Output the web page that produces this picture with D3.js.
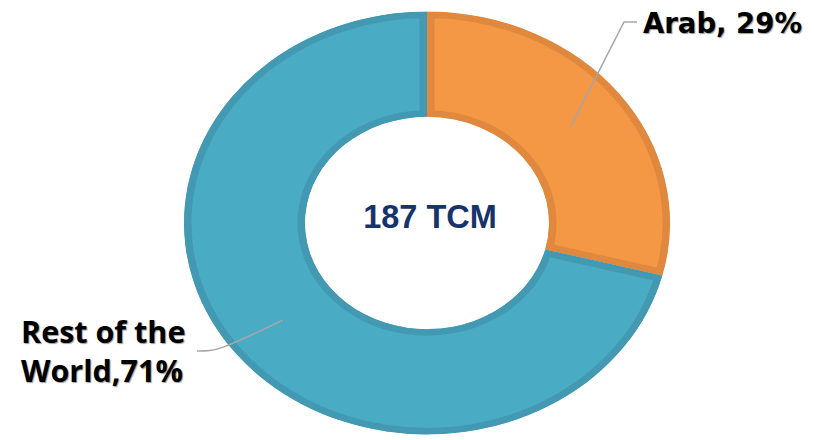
<!DOCTYPE html>
<html>
<head>
<meta charset="utf-8">
<script src="https://cdn.jsdelivr.net/npm/d3@7"></script>
<style>
  body { margin: 0; background: #fff; }
  svg { display: block; }
  .lbl { font-weight: bold; fill: #000; text-shadow: 1px 1px 1px #9a9a9a; }
</style>
</head>
<body>
<div id="chart"></div>
<script>
var width = 814
var height = 440

// data
var categories = ['Arab', 'Rest of the World']
var shares = [29, 71]
var labels = [['Arab, 29%'], ['Rest of the', 'World,71%']]
var total = '187 TCM'

var fills = ['#F49845', '#4AABC4']
var borders = ['#E0883E', '#4399B2']

var cx = 427, cy = 223
var outerR = 243, innerR = 122
var squash = 0.87   // the original chart is a little flattened

var svg = d3.select('#chart')
  .append('svg')
  .attr('width', width)
  .attr('height', height)

var pie = d3.pie().sort(null).value(function(d) { return d })
var arc = d3.arc().innerRadius(innerR).outerRadius(outerR)
var arcs = pie(shares)

var defs = svg.append('defs')
var g = svg.append('g')
  .attr('transform', 'translate(' + cx + ',' + cy + ') scale(1,' + squash + ')')

arcs.forEach(function(a, i) {
  defs.append('clipPath').attr('id', 'clip' + i)
    .append('path').attr('d', arc(a))
  g.append('path')
    .attr('d', arc(a))
    .attr('fill', fills[i])
    .attr('stroke', borders[i])
    .attr('stroke-width', 15)
    .attr('clip-path', 'url(#clip' + i + ')')
})

// leader lines from slice centroids
function pt(a) {
  var c = arc.centroid(a)
  return [cx + c[0], cy + c[1] * squash]
}

var lines = svg.append('g')
  .attr('fill', 'none')
  .attr('stroke', '#A6A6A6')
  .attr('stroke-width', 1.5)

var p0 = pt(arcs[0])
lines.append('path')
  .attr('d', d3.line()([p0, [624, 22], [637, 22]]))

var p1 = pt(arcs[1])
lines.append('path')
  .attr('d', d3.line().curve(d3.curveBasis)([p1, [245, 338], [222, 348], [210, 351], [197, 351]]))

// labels
svg.append('text')
  .attr('class', 'lbl')
  .attr('x', 643)
  .attr('y', 33)
  .style('font-family', '"DejaVu Sans", Verdana, sans-serif')
  .style('font-size', '27.5px')
  .text(labels[0][0])

var rest = svg.append('text')
  .attr('class', 'lbl')
  .style('font-family', '"Open Sans", Calibri, sans-serif')
  .style('font-size', '30.5px')
labels[1].forEach(function(t, i) {
  rest.append('tspan').attr('x', 21).attr('y', 343 + i * 39).text(t)
})

svg.append('text')
  .attr('x', cx + 3)
  .attr('y', 228)
  .attr('text-anchor', 'middle')
  .style('font-family', '"Liberation Sans", Arial, sans-serif')
  .style('font-weight', 'bold')
  .style('font-size', '32.5px')
  .attr('fill', '#17336B')
  .text(total)
</script>
</body>
</html>
